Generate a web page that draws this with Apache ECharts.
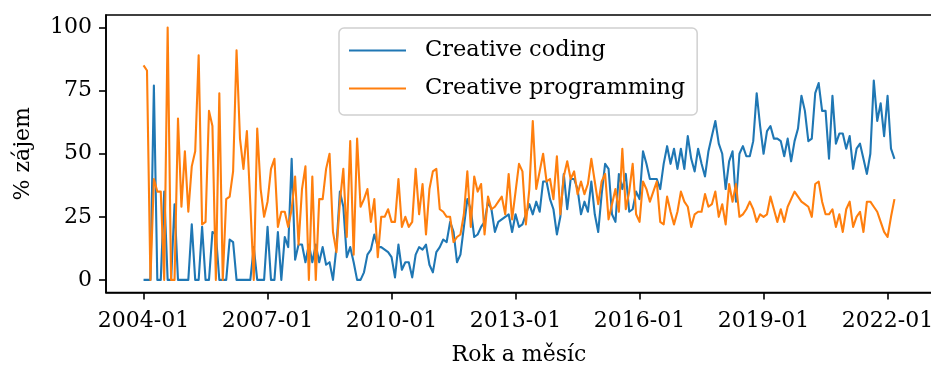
<!DOCTYPE html>
<html>
<head>
<meta charset="utf-8">
<script src="https://cdn.jsdelivr.net/npm/echarts@6/dist/echarts.min.js"></script>
<style>
  html, body { margin: 0; padding: 0; background: #fff; }
  #chart { width: 931px; height: 365px; }
</style>
</head>
<body>
<div id="chart"></div>
<script>
// Monthly search interest, 2004-01 .. 2022-03
const firstYear = 2004;
const lastMonth = '2022-03';
const tickLabels = ['2004-01', '2007-01', '2010-01', '2013-01', '2016-01', '2019-01', '2022-01'];
const yTicks = [0, 25, 50, 75, 100];
const seriesNames = ['Creative coding', 'Creative programming'];

const coding = [
  0, 0, 0, 77, 0, 0, 35, 0, 0, 30,
  0, 0, 0, 0, 22, 0, 0, 21, 0, 0,
  19, 18, 0, 0, 0, 16, 15, 0, 0, 0,
  0, 0, 13, 0, 0, 0, 21, 0, 0, 19,
  0, 17, 13, 48, 8, 14, 14, 7, 14, 7,
  14, 7, 13, 6, 7, 0, 13, 35, 29, 9,
  13, 7, 0, 0, 3, 10, 12, 18, 13, 13,
  12, 11, 9, 1, 14, 4, 7, 7, 1, 10,
  13, 12, 14, 6, 3, 11, 13, 16, 15, 23,
  19, 7, 10, 21, 32, 28, 17, 18, 21, 23,
  31, 28, 19, 23, 24, 25, 26, 19, 26, 21,
  22, 26, 30, 26, 31, 27, 39, 39, 32, 28,
  18, 25, 42, 28, 40, 40, 36, 26, 31, 27,
  39, 26, 19, 34, 46, 44, 26, 23, 42, 36,
  42, 27, 28, 35, 32, 51, 46, 40, 40, 40,
  36, 46, 53, 46, 52, 44, 52, 44, 57, 48,
  43, 52, 46, 41, 51, 57, 63, 54, 50, 36,
  47, 51, 31, 50, 53, 49, 49, 55, 74, 61,
  50, 59, 61, 56, 56, 55, 49, 56, 47, 55,
  60, 73, 67, 55, 56, 74, 78, 67, 67, 48,
  73, 54, 58, 58, 52, 57, 44, 52, 54, 48,
  42, 50, 79, 63, 70, 57, 73, 52, 48
];

const programming = [
  85, 83, 0, 40, 35, 35, 0, 100, 0, 0,
  64, 29, 51, 27, 45, 51, 89, 22, 23, 67,
  61, 0, 74, 0, 32, 33, 43, 91, 56, 44,
  59, 30, 0, 60, 36, 25, 31, 44, 48, 21,
  27, 27, 21, 28, 41, 14, 36, 45, 0, 41,
  0, 32, 32, 44, 50, 19, 11, 31, 44, 17,
  55, 10, 56, 29, 32, 36, 23, 32, 9, 25,
  25, 28, 23, 23, 40, 21, 25, 21, 23, 44,
  26, 38, 18, 36, 43, 44, 28, 27, 25, 25,
  15, 17, 18, 26, 43, 21, 41, 35, 38, 18,
  33, 28, 29, 31, 33, 26, 42, 24, 35, 46,
  43, 22, 36, 63, 36, 43, 50, 39, 40, 32,
  49, 26, 41, 47, 40, 43, 34, 39, 34, 38,
  48, 39, 30, 39, 42, 24, 30, 36, 27, 52,
  28, 35, 46, 26, 23, 39, 36, 31, 35, 39,
  23, 22, 33, 27, 22, 27, 35, 31, 29, 21,
  26, 27, 27, 34, 29, 30, 35, 25, 30, 22,
  38, 31, 38, 25, 26, 28, 31, 28, 23, 26,
  25, 26, 33, 28, 23, 28, 23, 29, 32, 35,
  33, 31, 30, 29, 25, 38, 39, 31, 26, 26,
  28, 21, 26, 19, 28, 31, 21, 25, 27, 19,
  31, 31, 29, 27, 23, 19, 17, 25, 32
];

// Month labels "YYYY-MM" for every data point
const months = [];
for (let y = firstYear; months[months.length - 1] !== lastMonth; y++) {
  for (let m = 1; m <= 12 && months[months.length - 1] !== lastMonth; m++) {
    months.push(y + '-' + String(m).padStart(2, '0'));
  }
}

const FONT = 'DejaVu Serif';
const FS = 22;
const pad = (months.length - 1) * 0.05;   // 5 % margin on both sides
const tickIdx = tickLabels.map(t => months.indexOf(t));

const chart = echarts.init(document.getElementById('chart'), null, { renderer: 'canvas' });

const axisCommon = {
  axisLine: { show: true, onZero: false, lineStyle: { color: '#000', width: 1.6 } },
  splitLine: { show: false }
};

chart.setOption({
  animation: false,
  backgroundColor: '#fff',
  textStyle: { fontFamily: FONT, color: '#000' },
  grid: {
    left: 106, top: 15, width: 826, height: 277.5,
    outerBoundsMode: 'none',
    containLabel: false,
    show: true, borderColor: '#000', borderWidth: 1.6, backgroundColor: 'transparent'
  },
  legend: {
    left: 339, top: 28,
    orient: 'vertical',
    icon: 'rect',
    itemWidth: 57, itemHeight: 2.2,
    itemGap: 15,
    padding: [11, 12, 15, 10],
    borderColor: '#d0d0d0', borderWidth: 1.5, borderRadius: 5,
    backgroundColor: 'rgba(255,255,255,0.8)',
    textStyle: { fontFamily: FONT, fontSize: 22.5, color: '#000', padding: [0, 0, 0, 14], lineHeight: 22 },
    data: seriesNames
  },
  xAxis: Object.assign({
    type: 'value',
    min: -pad, max: months.length - 1 + pad,
    name: 'Rok a měsíc', nameLocation: 'middle', nameGap: 52,
    nameTextStyle: { fontFamily: FONT, fontSize: FS, color: '#000' },
    axisTick: { show: true, length: 7, lineStyle: { color: '#000', width: 1.6 }, customValues: tickIdx },
    axisLabel: {
      fontFamily: FONT, fontSize: FS, color: '#000', margin: 18,
      customValues: tickIdx,
      formatter: v => months[Math.round(v)]
    }
  }, axisCommon),
  yAxis: Object.assign({
    type: 'value',
    min: -5, max: 105,
    name: '% zájem', nameLocation: 'middle', nameGap: 72, nameRotate: 90,
    nameTextStyle: { fontFamily: FONT, fontSize: FS, color: '#000' },
    axisTick: { show: true, length: 7, lineStyle: { color: '#000', width: 1.6 }, customValues: yTicks },
    axisLabel: { fontFamily: FONT, fontSize: FS, color: '#000', margin: 14, customValues: yTicks }
  }, axisCommon),
  series: [
    {
      name: seriesNames[0], type: 'line', symbol: 'none',
      color: '#1f77b4',
      lineStyle: { width: 2.1, color: '#1f77b4', join: 'round' },
      data: coding.map((v, i) => [i, v])
    },
    {
      name: seriesNames[1], type: 'line', symbol: 'none',
      color: '#ff7f0e',
      lineStyle: { width: 2.1, color: '#ff7f0e', join: 'round' },
      data: programming.map((v, i) => [i, v])
    }
  ]
});
</script>
</body>
</html>
